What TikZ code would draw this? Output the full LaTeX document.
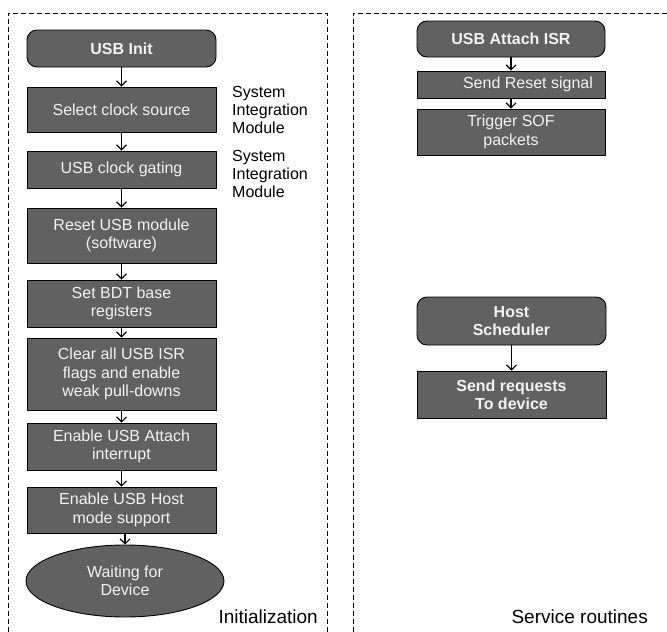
\documentclass[tikz,border=0pt]{standalone}
\usepackage{fontspec}
\setmainfont{Liberation Sans}
\usetikzlibrary{arrows.meta,shapes.geometric}
\definecolor{boxfill}{HTML}{616161}
\definecolor{boxtext}{HTML}{F2F2F2}
\tikzset{
  stepbox/.style={draw=black, line width=0.9pt, fill=boxfill, text=boxtext,
    align=center, inner sep=0pt, minimum width=189pt,
    font=\fontsize{16}{18.3}\selectfont},
  startbox/.style={stepbox, rounded corners=10pt, font=\fontsize{16}{18.3}\selectfont\bfseries},
  endell/.style={ellipse, draw=black, line width=0.9pt, fill=boxfill, text=boxtext,
    align=center, inner sep=0pt, minimum width=198pt, minimum height=72pt,
    font=\fontsize{16}{18.3}\selectfont},
  flow/.style={draw=black, line width=1.1pt, -{Straight Barb[length=5pt,width=10pt,line width=1.1pt]}},
  frame/.style={draw=black, line width=0.8pt, dash pattern=on 5pt off 3pt},
  sidelabel/.style={align=left, inner sep=0pt, anchor=north west, font=\fontsize{16}{18}\selectfont},
  biglabel/.style={inner sep=0pt, font=\fontsize{19}{22}\selectfont}
}
\begin{document}
\begin{tikzpicture}[x=1pt,y=-1pt]
\useasboundingbox (0,0) rectangle (667,632);
% frames
\draw[frame] (8,640) -- (8,13) -- (327,13) -- (327,640);
\draw[frame] (353,640) -- (353,13) -- (670,13);
% left column
\node[startbox, minimum height=37pt] (init) at (121.5,48.5) {USB Init};
\node[stepbox, minimum height=45pt] (sel) at (121.5,109.5) {Select clock source};
\node[stepbox, minimum height=37pt] (gate) at (121.5,169.5) {USB clock gating};
\node[stepbox, minimum height=55pt] (rst) at (121.5,235.5) {Reset USB module\\(software)};
\node[stepbox, minimum height=47pt] (bdt) at (121.5,303.5) {Set BDT base\\registers};
\node[stepbox, minimum height=72pt] (clr) at (121.5,374) {Clear all USB ISR\\flags and enable\\weak pull-downs};
\node[stepbox, minimum height=47pt] (att) at (121.5,446.5) {Enable USB Attach\\interrupt};
\node[stepbox, minimum height=46pt] (hst) at (121.5,510) {Enable USB Host\\mode support};
\node[endell] (wait) at (125,581) {Waiting for\\Device};
\node[sidelabel] (sim1) at (232,86.5) {System\\Integration\\Module};
\node[sidelabel] (sim2) at (232,150.5) {System\\Integration\\Module};
\node[biglabel, anchor=base east] (initlbl) at (318,623) {Initialization};
\draw[flow] (init) -- (sel);
\draw[flow] (sel) -- (gate);
\draw[flow] (gate) -- (rst);
\draw[flow] (rst) -- (bdt);
\draw[flow] (bdt) -- (clr);
\draw[flow] (clr) -- (att);
\draw[flow] (att) -- (hst);
\draw[flow] (hst.south -| wait.north) -- (wait.north);
% right column
\node[startbox, minimum width=188pt, minimum height=36pt] (isr) at (511,39) {USB Attach ISR};
\node[stepbox, minimum width=188pt, minimum height=27pt] (rsig) at (511,84.5) {\hspace*{34pt}Send Reset signal};
\node[stepbox, minimum width=188pt, minimum height=46pt] (sof) at (511,132) {Trigger SOF\\packets};
\node[startbox, minimum width=189pt, minimum height=48pt] (sched) at (511.5,321) {Host\\Scheduler};
\node[stepbox, minimum width=189pt, minimum height=47pt, font=\fontsize{16}{18.3}\selectfont\bfseries] (req) at (511.5,394.5) {Send requests\\To device};
\node[biglabel, anchor=base east] (svclbl) at (648,623) {Service routines};
\draw[flow] (isr) -- (rsig);
\draw[flow] (rsig) -- (sof);
\draw[flow] (sched) -- (req);
\end{tikzpicture}
\end{document}
